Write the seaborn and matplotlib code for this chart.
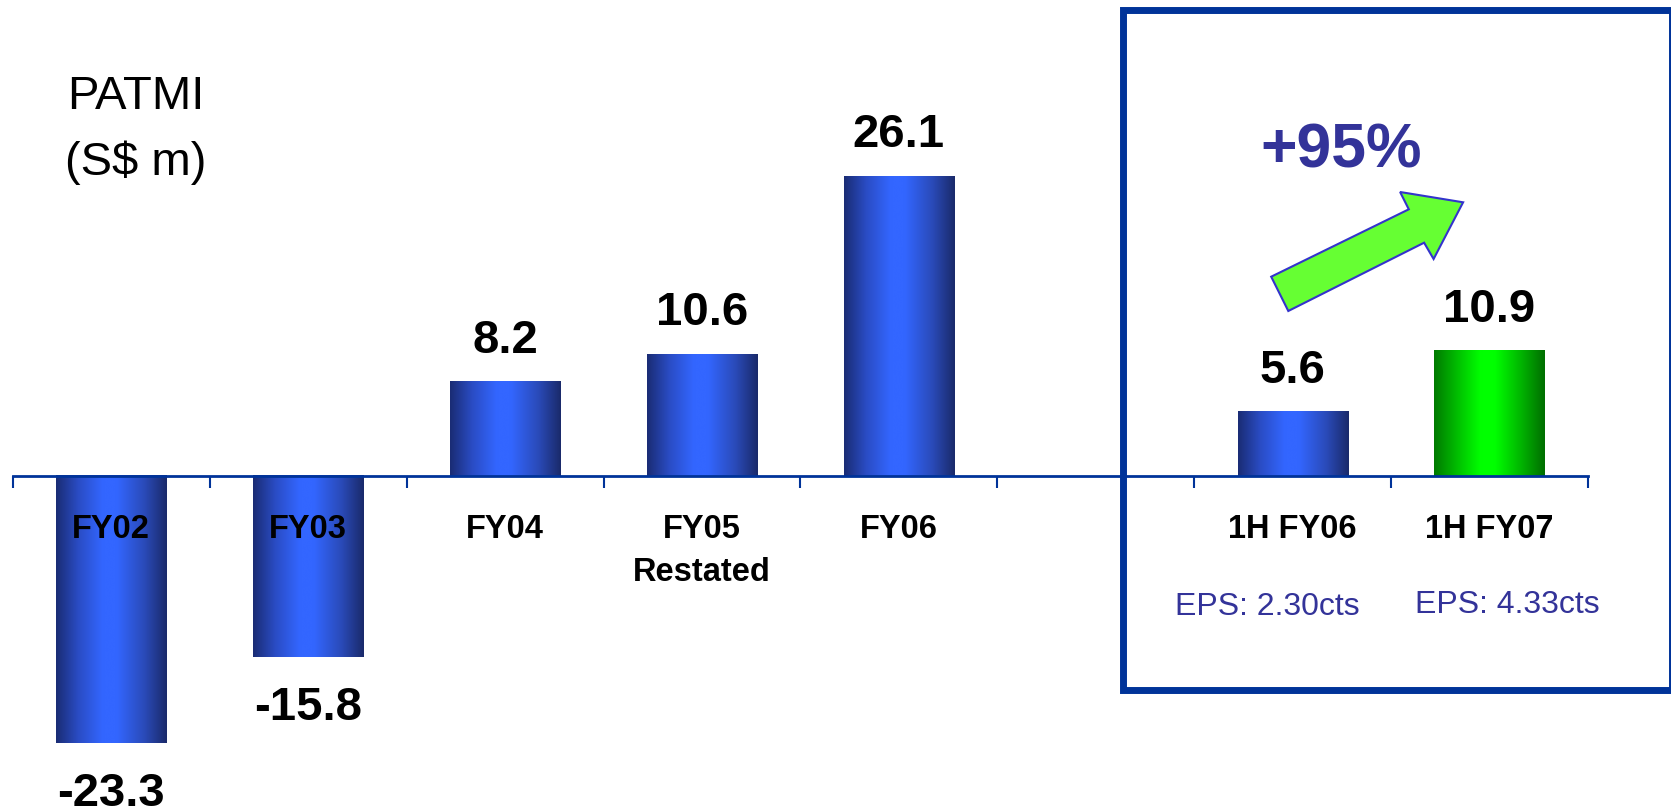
import matplotlib
matplotlib.use("Agg")
import matplotlib.pyplot as plt
import numpy as np
import pandas as pd
import seaborn as sns
from matplotlib.colors import LinearSegmentedColormap
from matplotlib.patches import Polygon, Rectangle

# data
periods = ["FY02", "FY03", "FY04", "FY05\nRestated", "FY06", " ", "1H FY06", "1H FY07"]
patmi = [-23.3, -15.8, 8.2, 10.6, 26.1, np.nan, 5.6, 10.9]
highlight = [False, False, False, False, False, False, False, True]
eps_labels = ["", "", "", "", "", "", "EPS: 2.30cts", "EPS: 4.33cts"]
growth_label = "+95%"
unit_label = "PATMI\n(S$ m)"

NAVY = "#003399"
PURPLE = "#333399"
W, H = 1671, 809

sns.set_theme(style="white")
plt.rcParams["font.family"] = ["Liberation Sans", "DejaVu Sans"]

df = pd.DataFrame({"period": periods, "patmi": patmi})

fig = plt.figure(figsize=(W / 100, H / 100), dpi=100)
ax = fig.add_axes([0, 0, 1, 1])
sns.barplot(
    data=df.dropna(),
    x="period",
    y="patmi",
    order=periods,
    width=0.56,
    color="#3366ff",
    saturation=1,
    errorbar=None,
    ax=ax,
)

# horizontal "cylinder" gradients on the bars
blue_cmap = LinearSegmentedColormap.from_list(
    "bluebar", [(0, "#1a2c74"), (0.2, "#2a4cc4"), (0.42, "#3366ff"), (0.55, "#3366ff"), (0.8, "#2a4ab8"), (1, "#1a2a6a")]
)
green_cmap = LinearSegmentedColormap.from_list(
    "greenbar", [(0, "#007a00"), (0.2, "#00bb00"), (0.42, "#00ff00"), (0.55, "#00ff00"), (0.8, "#00b000"), (1, "#006e00")]
)
grad = np.linspace(0, 1, 256).reshape(1, -1)
for p in list(ax.patches):
    x0, w = p.get_x(), p.get_width()
    y0, h = p.get_y(), p.get_height()
    idx = int(round(x0 + w / 2))
    cmap = green_cmap if highlight[idx] else blue_cmap
    ax.imshow(
        grad,
        extent=[x0, x0 + w, min(y0, y0 + h), max(y0, y0 + h)],
        aspect="auto",
        cmap=cmap,
        interpolation="bicubic",
        zorder=2,
    )
    p.set_visible(False)

# value labels
for i, v in enumerate(patmi):
    if np.isnan(v):
        continue
    ax.annotate(
        f"{v:.1f}",
        xy=(i, v),
        xytext=(0, 21 if v > 0 else -45),
        textcoords="offset points",
        ha="center",
        va="baseline",
        fontsize=34,
        fontweight="bold",
        color="black",
    )

# EPS notes under the half-year bars
eps_dx = [0, 0, 0, 0, 0, 0, -25, 18]
eps_dy = [0, 0, 0, 0, 0, 0, -139, -137]
for i, t in enumerate(eps_labels):
    if t:
        ax.annotate(
            t,
            xy=(i, 0),
            xytext=(eps_dx[i], eps_dy[i]),
            textcoords="offset pixels",
            ha="center",
            va="baseline",
            fontsize=23,
            color=PURPLE,
        )

# axis line at zero with boundary ticks
px_per_unit = 11.47
slot = 196.9
ax.set_xlim(-0.5 - 12.8 / slot, -0.5 + (W - 12.8) / slot)
ax.set_ylim(-(H - 476) / px_per_unit, 476 / px_per_unit)

for s in ["left", "top", "right"]:
    ax.spines[s].set_visible(False)
ax.spines["bottom"].set_position(("data", 0))
ax.spines["bottom"].set_bounds(-0.5, 7.5)
ax.spines["bottom"].set_color(NAVY)
ax.spines["bottom"].set_linewidth(2)
ax.yaxis.set_visible(False)
ax.xaxis.set_zorder(3)  # labels sit on top of the negative bars
ax.set_xlabel("")
ax.set_ylabel("")

ax.set_xticks(np.arange(len(periods)))
ax.set_xticklabels(periods, fontsize=23.5, fontweight="bold", color="black")
ax.set_xticks(np.arange(-0.5, len(periods), 1), minor=True)
ax.tick_params(axis="x", which="major", length=0, pad=27)
ax.tick_params(axis="x", which="minor", bottom=True, length=8.6, width=1.5, color=NAVY, direction="out")
for t in ax.get_xticklabels():
    t.set_linespacing(1.52)

# highlight box around half-year results
box = Rectangle(
    (1123 / W, 1 - 689.5 / H),
    (1672 - 1123) / W,
    (689.5 - 10) / H,
    transform=fig.transFigure,
    fill=False,
    edgecolor=NAVY,
    linewidth=5,
    clip_on=False,
)
fig.add_artist(box)

# growth arrow
arrow_px = [
    (1271.2, 276.7),
    (1408.8, 209.3),
    (1400.1, 192.0),
    (1463.1, 202.3),
    (1433.6, 259.0),
    (1424.1, 242.7),
    (1288.3, 311.0),
]
arrow = Polygon(
    [(x / W, 1 - y / H) for x, y in arrow_px],
    closed=True,
    transform=fig.transFigure,
    facecolor="#66ff33",
    edgecolor="#3333cc",
    linewidth=1.5,
)
fig.add_artist(arrow)

fig.text(1341 / W, 1 - 168 / H, growth_label, ha="center", va="baseline",
         fontsize=45, fontweight="bold", color=PURPLE)
# multi-line text: baseline alignment goes to the last line
fig.text(136 / W, 1 - 175 / H, unit_label, ha="center", va="baseline",
         fontsize=34, linespacing=1.62, color="black")

fig.savefig("out.png", dpi=100)
